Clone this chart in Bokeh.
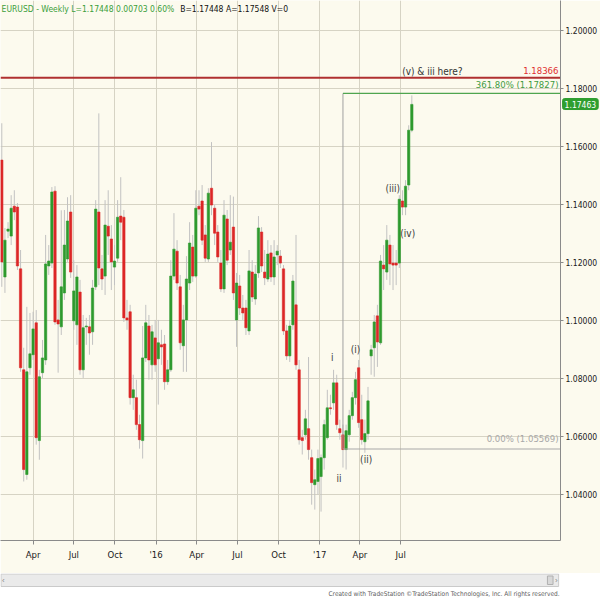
import pandas as pd
from bokeh.plotting import figure
from bokeh.models import Range1d, FixedTicker, PrintfTickFormatter, Label, ColumnDataSource
from bokeh.layouts import column
from bokeh.embed import file_html
from bokeh.resources import INLINE
from bokeh.core.properties import value

# ---------------- data (EURUSD weekly) ----------------
first_week = "2015-01-21"
opens = [1.1553, 1.1150, 1.1308, 1.1291, 1.1394, 1.1391, 1.1178, 1.0830, 1.0469, 1.0837,
         1.0882, 1.0992, 1.0586, 1.0820, 1.0864, 1.1188, 1.1198, 1.1446, 1.1002, 1.0978,
         1.1095, 1.1212, 1.1374, 1.0999, 1.0985, 1.1098, 1.0830, 1.0978, 1.0978, 1.0961,
         1.1116, 1.1374, 1.1178, 1.1153, 1.1325, 1.1281, 1.1184, 1.1215, 1.1360, 1.1356,
         1.1009, 1.1030, 1.0734, 1.0734, 1.0641, 1.0586, 1.0871, 1.0981, 1.0847, 1.0940,
         1.0868, 1.0916, 1.0919, 1.0789, 1.0830, 1.1153, 1.1239, 1.1116, 1.0913, 1.1002,
         1.1129, 1.1253, 1.1153, 1.1394, 1.1412, 1.1295, 1.1212, 1.1456, 1.1387, 1.1305,
         1.1198, 1.1109, 1.1350, 1.1243, 1.1322, 1.1002, 1.1119, 1.1043, 1.1043, 1.0964,
         1.1167, 1.1074, 1.1164, 1.1305, 1.1167, 1.1143, 1.1233, 1.1150, 1.1226, 1.1222,
         1.1178, 1.0964, 1.0878, 1.0985, 1.1054, 1.0830, 1.0596, 1.0606, 1.0627, 1.0527,
         1.0434, 1.0445, 1.0462, 1.0527, 1.0596, 1.0699, 1.0716, 1.0785, 1.0627, 1.0606,
         1.0555, 1.0606, 1.0672, 1.0734, 1.0837, 1.0658, 1.0582, 1.0610, 1.0878, 1.0906,
         1.1016, 1.0923, 1.1191, 1.1167, 1.1260, 1.1198, 1.1198, 1.1198, 1.1412, 1.1391,
         1.1467, 1.1656]
highs = [1.1680, 1.1319, 1.1339, 1.1432, 1.1449, 1.1405, 1.1243, 1.0906, 1.1047, 1.1026,
         1.1030, 1.1036, 1.0830, 1.0933, 1.1295, 1.1260, 1.1460, 1.1463, 1.1071, 1.1380,
         1.1381, 1.1425, 1.1432, 1.1208, 1.1191, 1.1140, 1.1019, 1.1009, 1.1019, 1.1140,
         1.1415, 1.1714, 1.1226, 1.1415, 1.1449, 1.1329, 1.1260, 1.1415, 1.1494, 1.1381,
         1.1071, 1.1054, 1.0813, 1.0796, 1.0675, 1.0981, 1.1054, 1.1019, 1.0985, 1.1002,
         1.1002, 1.0968, 1.0950, 1.0864, 1.1208, 1.1370, 1.1277, 1.1157, 1.1054, 1.1222,
         1.1339, 1.1295, 1.1449, 1.1449, 1.1467, 1.1329, 1.1456, 1.1615, 1.1398, 1.1329,
         1.1243, 1.1415, 1.1381, 1.1432, 1.1427, 1.1164, 1.1157, 1.1088, 1.1071, 1.1243,
         1.1208, 1.1191, 1.1360, 1.1322, 1.1243, 1.1277, 1.1260, 1.1277, 1.1260, 1.1243,
         1.1191, 1.0985, 1.1002, 1.1157, 1.1295, 1.0864, 1.0623, 1.0692, 1.0874, 1.0555,
         1.0486, 1.0555, 1.0538, 1.0658, 1.0761, 1.0744, 1.0830, 1.0813, 1.0658, 1.0641,
         1.0641, 1.0692, 1.0754, 1.0823, 1.0864, 1.0744, 1.0658, 1.0771, 1.0916, 1.1019,
         1.1054, 1.1226, 1.1260, 1.1329, 1.1295, 1.1260, 1.1243, 1.1432, 1.1449, 1.1484,
         1.1673, 1.1776]
lows = [1.1116, 1.1095, 1.1284, 1.1260, 1.1346, 1.1174, 1.0823, 1.0445, 1.0451, 1.0813,
        1.0864, 1.0572, 1.0520, 1.0802, 1.0847, 1.1157, 1.1181, 1.0985, 1.0820, 1.0950,
        1.1071, 1.1202, 1.1147, 1.0968, 1.0916, 1.0813, 1.0802, 1.0916, 1.0882, 1.0916,
        1.1105, 1.1122, 1.1105, 1.1088, 1.1226, 1.1105, 1.1122, 1.1202, 1.1277, 1.0995,
        1.0968, 1.0710, 1.0692, 1.0623, 1.0558, 1.0524, 1.0857, 1.0796, 1.0796, 1.0823,
        1.0710, 1.0847, 1.0761, 1.0778, 1.0823, 1.1140, 1.1105, 1.0899, 1.0823, 1.0823,
        1.1105, 1.1133, 1.1147, 1.1363, 1.1260, 1.1202, 1.1202, 1.1363, 1.1260, 1.1202,
        1.1098, 1.1095, 1.1191, 1.1226, 1.1071, 1.0909, 1.1019, 1.1002, 1.0950, 1.0950,
        1.1064, 1.1054, 1.1147, 1.1167, 1.1122, 1.1133, 1.1133, 1.1122, 1.1191, 1.1181,
        1.0950, 1.0864, 1.0857, 1.0968, 1.0830, 1.0572, 1.0538, 1.0589, 1.0520, 1.0365,
        1.0348, 1.0400, 1.0341, 1.0486, 1.0589, 1.0675, 1.0692, 1.0623, 1.0589, 1.0493,
        1.0486, 1.0582, 1.0658, 1.0710, 1.0630, 1.0572, 1.0544, 1.0589, 1.0813, 1.0806,
        1.0840, 1.0916, 1.1105, 1.1140, 1.1122, 1.1105, 1.1122, 1.1181, 1.1363, 1.1363,
        1.1449, 1.1649]
closes = [1.1202, 1.1277, 1.1315, 1.1387, 1.1374, 1.1188, 1.0837, 1.0486, 1.0823, 1.0885,
          1.0971, 1.0596, 1.0806, 1.0871, 1.1195, 1.1205, 1.1443, 1.0995, 1.0988, 1.1116,
          1.1260, 1.1343, 1.1167, 1.1102, 1.1150, 1.0830, 1.0975, 1.0981, 1.0957, 1.1112,
          1.1384, 1.1181, 1.1143, 1.1329, 1.1291, 1.1202, 1.1205, 1.1356, 1.1339, 1.1009,
          1.1002, 1.0734, 1.0761, 1.0641, 1.0589, 1.0871, 1.0992, 1.0864, 1.0961, 1.0847,
          1.0923, 1.0909, 1.0789, 1.0830, 1.1153, 1.1246, 1.1129, 1.0923, 1.1002, 1.1143,
          1.1267, 1.1153, 1.1387, 1.1384, 1.1277, 1.1215, 1.1439, 1.1398, 1.1301, 1.1219,
          1.1109, 1.1363, 1.1208, 1.1270, 1.1095, 1.1129, 1.1043, 1.1026, 1.0975, 1.1171,
          1.1081, 1.1160, 1.1319, 1.1188, 1.1147, 1.1229, 1.1150, 1.1219, 1.1239, 1.1198,
          1.0964, 1.0878, 1.0981, 1.1136, 1.0847, 1.0589, 1.0586, 1.0661, 1.0555, 1.0441,
          1.0451, 1.0524, 1.0527, 1.0641, 1.0699, 1.0696, 1.0785, 1.0641, 1.0613, 1.0555,
          1.0620, 1.0672, 1.0734, 1.0796, 1.0648, 1.0589, 1.0610, 1.0723, 1.0899, 1.0995,
          1.0926, 1.1205, 1.1178, 1.1277, 1.1195, 1.1191, 1.1191, 1.1418, 1.1391, 1.1463,
          1.1656, 1.1745]

y_ticks = [1.04, 1.06, 1.08, 1.10, 1.12, 1.14, 1.16, 1.18, 1.20]
tick_dates = ["2015-04-01", "2015-07-01", "2015-10-01", "2016-01-01", "2016-04-01",
              "2016-07-01", "2016-10-01", "2017-01-01", "2017-04-01", "2017-07-01"]
tick_labels = ["Apr", "Jul", "Oct", "'16", "Apr", "Jul", "Oct", "'17", "Apr", "Jul"]

resistance = 1.18366
fib_top = 1.17827
fib_zero = 1.05569
fib_anchor_week = 109
last_price = 1.17463

wave_text = ["i", "ii", "(i)", "(ii)", "(iii)", "(iv)"]
wave_week = [105.6, 107.7, 113.0, 116.4, 124.9, 129.7]
wave_price = [1.0871, 1.0455, 1.0899, 1.0520, 1.1456, 1.1301]

title_green = "EURUSD - Weekly  L=1.17448  0.00703  0.60%"
title_black = "B=1.17448  A=1.17548  V=0"
note_text = "(v) & iii here?"
footer = "Created with TradeStation \u00a9TradeStation Technologies, Inc. All rights reserved."

# ---------------- styling ----------------
FONT = "'DejaVu Sans Condensed', 'Liberation Sans', sans-serif"
CREAM = "#FCFAEE"
GRID = "#D6D3C4"
RED = "#DC2626"
GREEN = "#2E9A2E"
WICK = "#C2C2C2"

origin = pd.Timestamp(first_week)
dates = pd.date_range(first_week, periods=len(opens), freq="7D")
xs = [(d - origin).days for d in dates]
tick_x = [(pd.Timestamp(d) - origin).days for d in tick_dates]

colors = [GREEN if c >= o else RED for o, c in zip(opens, closes)]
src = ColumnDataSource(dict(
    x=xs, high=highs, low=lows,
    top=[max(o, c) for o, c in zip(opens, closes)],
    bottom=[min(o, c) for o, c in zip(opens, closes)],
    color=colors))

x_start, x_end = -2.9, 1249.5
y_start, y_end = 1.02415, 1.21032

p = figure(width=600, height=573, x_range=Range1d(x_start, x_end),
           y_range=Range1d(y_start, y_end), y_axis_location="right",
           output_backend="svg", toolbar_location=None, title=None,
           min_border_left=0, min_border_top=0, min_border_bottom=32, min_border_right=0)
p.background_fill_color = CREAM
p.border_fill_color = CREAM
p.outline_line_color = None

p.yaxis.ticker = FixedTicker(ticks=y_ticks)
p.yaxis.formatter = PrintfTickFormatter(format="%.5f")
p.xaxis.ticker = FixedTicker(ticks=tick_x)
p.xaxis.major_label_overrides = dict(zip(tick_x, tick_labels))
for ax in (p.xaxis[0], p.yaxis[0]):
    ax.axis_line_color = "#8A8A8A"
    ax.major_tick_line_color = "#8A8A8A"
    ax.minor_tick_line_color = None
    ax.major_tick_in = 0
    ax.major_label_text_font = FONT
    ax.major_label_text_color = "#202020"
p.xaxis.major_tick_out = 4
p.xaxis.major_label_standoff = 4
p.xaxis.major_label_text_font_size = "9.5px"
p.yaxis.major_tick_out = 3
p.yaxis.major_label_standoff = 2
p.yaxis.major_label_text_font_size = "8.5px"
p.xgrid.ticker = FixedTicker(ticks=tick_x)
p.ygrid.ticker = FixedTicker(ticks=y_ticks)
p.grid.grid_line_color = GRID
p.grid.grid_line_width = 1

# candles
p.segment(x0="x", y0="low", x1="x", y1="high", source=src, line_color=WICK, line_width=1)
p.vbar(x="x", width=5.2, top="top", bottom="bottom", source=src,
       fill_color="color", line_color="color", line_width=0.6)

# levels
fib_x = xs[fib_anchor_week]
p.segment(x0=[x_start], y0=[resistance], x1=[x_end], y1=[resistance],
          line_color="#B03030", line_width=2)
p.segment(x0=[fib_x], y0=[fib_top], x1=[fib_x], y1=[fib_zero],
          line_color="#A0A0A0", line_width=1)
p.segment(x0=[fib_x], y0=[fib_zero], x1=[x_end], y1=[fib_zero],
          line_color="#A8A8A8", line_width=1.2)
p.segment(x0=[fib_x], y0=[fib_top], x1=[x_end], y1=[fib_top],
          line_color="#4FA54F", line_width=1.3)

right_x = x_end - 4.5
p.text(x=[right_x], y=[resistance + 0.0012], text=["%.5f" % resistance],
       text_align="right", text_baseline="bottom", text_font=value(FONT),
       text_font_size="9.5px", text_color="#E03030")
p.text(x=[right_x], y=[fib_top + 0.0011], text=["361.80%% (%.5f)" % fib_top],
       text_align="right", text_baseline="bottom", text_font=value(FONT),
       text_font_size="9.5px", text_color="#3F9B3F")
p.text(x=[right_x], y=[fib_zero + 0.0017], text=["0.00%% (%.5f)" % fib_zero],
       text_align="right", text_baseline="bottom", text_font=value(FONT),
       text_font_size="9.5px", text_color="#A8A8A8")
p.text(x=[963.0], y=[1.18589], text=[note_text], text_align="center",
       text_baseline="middle", text_font=value(FONT), text_font_size="10px",
       text_color="#333333")

p.text(x=[w * 7 for w in wave_week], y=wave_price, text=wave_text, text_align="center",
       text_baseline="middle", text_font=value(FONT), text_font_size="10px",
       text_color="#3A3A3A")

# title
p.add_layout(Label(x=x_start + 2.5, y=1.20722, text=title_green, text_baseline="middle",
                   text_font=FONT, text_font_size="8.5px", text_color="#3B9E3B"))
p.add_layout(Label(x=399.0, y=1.20722, text=title_black, text_baseline="middle",
                   text_font=FONT, text_font_size="8.5px", text_color="#111111"))

# last-price tag over the price axis (lives in a side panel so it is not clipped)
tag = Label(x=1294.0, y=last_price, text="%.5f" % last_price, text_align="center",
            text_baseline="middle", text_font=FONT, text_font_size="8.5px",
            text_color="white", background_fill_color="#2F9E2F",
            border_line_color="#2F9E2F")
try:
    tag.padding = 2
    tag.border_radius = 2
except Exception:
    pass
p.add_layout(tag, "below")

# ---------------- scrollbar + footer strip ----------------
p2 = figure(width=600, height=27, x_range=Range1d(0, 600), y_range=Range1d(0, 27),
            output_backend="svg", toolbar_location=None, title=None,
            min_border=0)
p2.axis.visible = False
p2.grid.visible = False
p2.outline_line_color = None
p2.background_fill_color = "white"
p2.border_fill_color = "white"
p2.quad(left=[0.5], right=[598], bottom=[14], top=[26.5], fill_color="#EAEAEA",
        line_color="#CACACA")
p2.quad(left=[586], right=[592], bottom=[16], top=[24.5], fill_color="#D8D8D8",
        line_color="#B0B0B0")
p2.text(x=[3, 595.5], y=[20.2, 20.2], text=["\u2039", "\u203a"], text_align="center",
        text_baseline="middle", text_font_size="8px", text_color="#888888")
p2.text(x=[599], y=[6.5], text=[footer], text_align="right", text_baseline="middle",
        text_font=value(FONT), text_font_size="6.5px", text_color="#606060")

layout = column(p, p2, spacing=0)
open("out.html", "w").write(file_html(layout, INLINE))
